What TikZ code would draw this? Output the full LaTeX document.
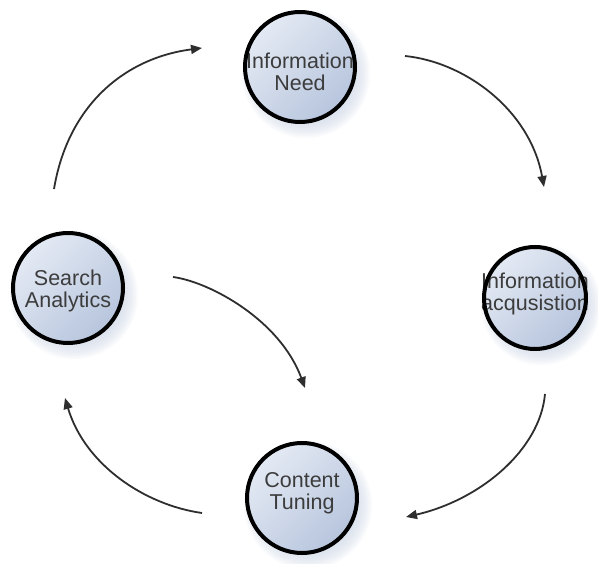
\documentclass[tikz,border=0pt]{standalone}
\usepackage{fontspec}
\setmainfont{Liberation Sans}
\usetikzlibrary{arrows.meta}

\definecolor{ringfillA}{HTML}{E4EAF4}
\definecolor{ringfillB}{HTML}{B7C5DD}
\definecolor{haze}{HTML}{CDD6E5}
\definecolor{inkgray}{HTML}{3C3C3C}
\definecolor{arrowgray}{HTML}{2E2E2E}

\tikzset{
  disc/.style={top color=ringfillA, bottom color=ringfillB, shading angle=45},
  ring/.style={draw=black, line width=4pt},
  label text/.style={inner sep=0pt, text=inkgray, align=center,
    font=\fontsize{21.5}{21.5}\selectfont},
  flow/.style={draw=arrowgray, line width=1.8pt,
    -{Triangle[length=11pt,width=9pt]}},
}

% soft shadow cast to the lower right of a stage circle: centre x, centre y, radius
\newcommand\softshadow[3]{%
  \foreach \k in {0,...,8}{%
    \fill[haze, opacity=0.13] (#1+6,#2+7) circle[radius={(#3+7-2*\k)*1pt}];
  }%
}

\begin{document}
\begin{tikzpicture}[x=1pt, y=-1pt]
  \useasboundingbox (0,0) rectangle (598,564);

  % centres of the stage circles
  \coordinate (needc) at (300,67);
  \coordinate (acqc)  at (535,298);
  \coordinate (tunec) at (302,498);
  \coordinate (anlc)  at (68,288);

  % shadows
  \softshadow{300}{67}{57}
  \softshadow{535}{298}{53}
  \softshadow{302}{498}{57}
  \softshadow{68}{288}{57}

  % discs
  \shade[disc] (needc) circle[radius=55pt];
  \shade[disc] (acqc)  circle[radius=51pt];
  \shade[disc] (tunec) circle[radius=55pt];
  \shade[disc] (anlc)  circle[radius=55pt];

  % stages of the cycle
  \node[label text] (need) at (300,72)  {Information\\Need};
  \node[label text] (acq)  at (535,294) {Information\\acqusistion};
  \node[label text] (tune) at (302,493) {Content\\Tuning};
  \node[label text] (anl)  at (68,291)  {Search\\Analytics};

  % outlines laid over the labels
  \draw[ring] (needc) circle[radius=55pt];
  \draw[ring] (acqc)  circle[radius=51pt];
  \draw[ring] (tunec) circle[radius=55pt];
  \draw[ring] (anlc)  circle[radius=55pt];

  % arrow end points
  \coordinate (a1s) at (54,189);  \coordinate (a1e) at (202,48);
  \coordinate (a2s) at (405,56);  \coordinate (a2e) at (544,187);
  \coordinate (a3s) at (545,394); \coordinate (a3e) at (406,517);
  \coordinate (a4s) at (202,513); \coordinate (a4e) at (65,398);
  \coordinate (a5s) at (173,277); \coordinate (a5e) at (305,388);

  % connectors
  \draw[flow] (a1s) .. controls (68,105)  and (125,58)  .. (a1e);
  \draw[flow] (a2s) .. controls (465,62)  and (530,110) .. (a2e);
  \draw[flow] (a3s) .. controls (540,450) and (480,500) .. (a3e);
  \draw[flow] (a4s) .. controls (145,505) and (85,465)  .. (a4e);
  \draw[flow] (a5s) .. controls (210,282) and (280,320) .. (a5e);
\end{tikzpicture}
\end{document}
